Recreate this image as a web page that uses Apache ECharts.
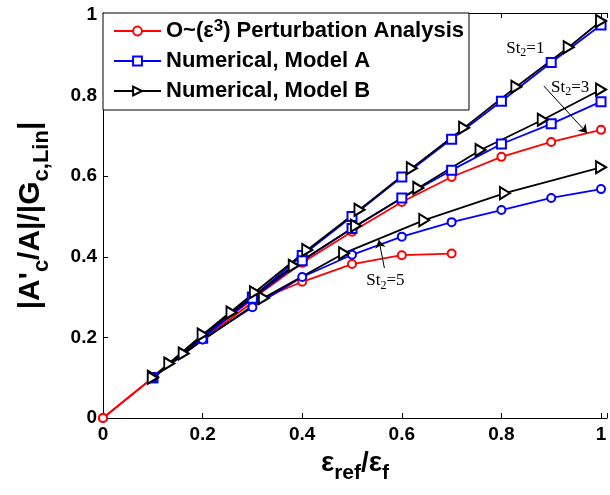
<!DOCTYPE html>
<html><head><meta charset="utf-8">
<script src="https://cdn.jsdelivr.net/npm/echarts@6/dist/echarts.min.js"></script>
<style>html,body{margin:0;padding:0;background:#fff}#c{width:610px;height:495px}</style>
</head><body><div id="c"></div>
<script>
// ---- data ----
const xTickValues = [0, 0.2, 0.4, 0.6, 0.8, 1];
const yTickValues = [0, 0.2, 0.4, 0.6, 0.8, 1];
const seriesNames = ['O~(ε3) Perturbation Analysis', 'Numerical, Model A', 'Numerical, Model B'];

// Perturbation analysis (red, circles)
const redSt3X = [0, 0.1, 0.2, 0.3, 0.4, 0.5, 0.6, 0.7, 0.8, 0.9, 1.0];
const redSt3Y = [0, 0.1, 0.2, 0.295, 0.385, 0.462, 0.536, 0.598, 0.648, 0.685, 0.715];
const redSt5X = [0, 0.1, 0.2, 0.3, 0.4, 0.5, 0.6, 0.7];
const redSt5Y = [0, 0.1, 0.195, 0.287, 0.338, 0.382, 0.404, 0.408];

// Numerical, Model A (blue)
const blueX = [0.1, 0.2, 0.3, 0.4, 0.5, 0.6, 0.7, 0.8, 0.9, 1.0];
const blueSt1Y = [0.1, 0.2, 0.3, 0.403, 0.5, 0.598, 0.692, 0.786, 0.882, 0.975];
const blueSt3Y = [0.1, 0.198, 0.297, 0.39, 0.47, 0.546, 0.615, 0.68, 0.73, 0.785];
const blueSt5Y = [0.1, 0.195, 0.275, 0.35, 0.405, 0.45, 0.486, 0.516, 0.546, 0.568];

// Numerical, Model B (black, right triangles)
const blackSt1X = [0.1, 0.2, 0.305, 0.41, 0.515, 0.62, 0.725, 0.83, 0.935, 1.0];
const blackSt1Y = [0.102, 0.207, 0.312, 0.417, 0.517, 0.62, 0.72, 0.822, 0.92, 0.985];
const blackSt3X = [0.133, 0.258, 0.383, 0.508, 0.633, 0.758, 0.883, 1.0];
const blackSt3Y = [0.135, 0.262, 0.378, 0.477, 0.571, 0.665, 0.74, 0.815];
const blackSt5X = [0.1, 0.162, 0.323, 0.484, 0.645, 0.807, 1.0];
const blackSt5Y = [0.1, 0.16, 0.298, 0.409, 0.491, 0.558, 0.622];

// annotations (data coordinates)
const annoLabels = [
  {text: '1', at: [0.848, 0.918]},
  {text: '3', at: [0.938, 0.821]},
  {text: '5', at: [0.567, 0.34]}
];
const annoArrows = [
  [[0.885, 0.824], [0.972, 0.707]],
  [[0.565, 0.372], [0.554, 0.442]]
];

// ---- chart ----
const RED = '#ff0000', BLUE = '#0000ff', BLACK = '#000000';
function pairs(xs, ys) { return xs.map((x, i) => [x, ys[i]]); }
function mk(name, xs, ys, color, symbol, size, rot) {
  return {
    type: 'line', name: name, data: pairs(xs, ys),
    symbol: symbol, symbolSize: size, symbolRotate: rot || 0,
    showSymbol: true, animation: false,
    lineStyle: {color: color, width: 1.8},
    itemStyle: {color: color, borderColor: color, borderWidth: 1.5}
  };
}
const tickFmt = v => {
  if (Math.abs(v * 5 - Math.round(v * 5)) > 1e-6) return '';
  if (Math.abs(v) < 1e-9) return '0';
  if (Math.abs(v - 1) < 1e-9) return '1';
  return v.toFixed(1);
};
const labelFont = {fontFamily: 'Liberation Sans', fontWeight: 'bold', fontSize: 19, color: '#000'};

const series = [
  mk(seriesNames[0], redSt3X, redSt3Y, RED, 'emptyCircle', 8),
  mk(seriesNames[0], redSt5X, redSt5Y, RED, 'emptyCircle', 8),
  mk(seriesNames[1], blueX, blueSt1Y, BLUE, 'emptyRect', 9),
  mk(seriesNames[1], blueX, blueSt3Y, BLUE, 'emptyRect', 9),
  mk(seriesNames[1], blueX, blueSt5Y, BLUE, 'emptyCircle', 8),
  mk(seriesNames[2], blackSt1X, blackSt1Y, BLACK, 'emptyTriangle', [12, 10], -90),
  mk(seriesNames[2], blackSt3X, blackSt3Y, BLACK, 'emptyTriangle', [12, 10], -90),
  mk(seriesNames[2], blackSt5X, blackSt5Y, BLACK, 'emptyTriangle', [12, 10], -90)
];
series.push({
  type: 'line', name: 'anno', data: [], silent: true, animation: false,
  markLine: {
    silent: true, animation: false,
    symbol: ['none', 'arrow'], symbolSize: 8,
    lineStyle: {color: '#000', width: 1, type: 'solid'},
    label: {show: false},
    data: annoArrows.map(a => [{coord: a[0]}, {coord: a[1]}])
  },
  markPoint: {
    silent: true, animation: false,
    symbol: 'circle', symbolSize: 1, itemStyle: {color: 'rgba(0,0,0,0)'},
    label: {
      show: true, position: 'inside', color: '#000',
      formatter: p => '{m|St}{s|2}{m|=' + p.name + '}',
      rich: {
        m: {fontFamily: 'Liberation Serif', fontSize: 17, color: '#000', lineHeight: 22},
        s: {fontFamily: 'Liberation Serif', fontSize: 12, color: '#000', lineHeight: 11, verticalAlign: 'bottom'}
      }
    },
    data: annoLabels.map(a => ({name: a.text, coord: a.at}))
  }
});

const chart = echarts.init(document.getElementById('c'), null, {renderer: 'canvas'});
chart.setOption({
  animation: false,
  backgroundColor: '#fff',
  grid: {left: 103, top: 13, right: -3, bottom: 77, containLabel: false},
  xAxis: [{
    type: 'value', min: 0, max: 1.012, interval: 0.2, position: 'bottom',
    axisLine: {show: true, onZero: false, lineStyle: {color: '#000', width: 1}},
    axisTick: {show: true, inside: true, length: 5, lineStyle: {color: '#000'}},
    splitLine: {show: false},
    axisLabel: Object.assign({margin: 7, formatter: tickFmt}, labelFont),
    name: '{e|ε}{s|ref}{e|/ε}{s|f}', nameLocation: 'middle', nameGap: 24,
    nameTextStyle: {
      rich: {
        e: {fontFamily: 'Liberation Sans', fontWeight: 'bold', fontSize: 28, color: '#000', lineHeight: 41},
        s: {fontFamily: 'Liberation Sans', fontWeight: 'bold', fontSize: 21, color: '#000', lineHeight: 21, verticalAlign: 'bottom'}
      }
    }
  }, {
    type: 'value', min: 0, max: 1.012, interval: 0.2, position: 'top',
    axisLine: {show: true, onZero: false, lineStyle: {color: '#000', width: 1}},
    axisTick: {show: true, inside: true, length: 5, lineStyle: {color: '#000'}},
    axisLabel: {show: false}, splitLine: {show: false}
  }],
  yAxis: [{
    type: 'value', min: 0, max: 1.005, interval: 0.2,
    axisLine: {show: true, onZero: false, lineStyle: {color: '#000', width: 1}},
    axisTick: {show: true, inside: true, length: 5, lineStyle: {color: '#000'}},
    splitLine: {show: false},
    axisLabel: Object.assign({margin: 6, formatter: tickFmt}, labelFont),
    name: "{m||A'}{s|c}{m|/A|/|G}{s|c,Lin}{m||}", nameLocation: 'middle', nameRotate: 90, nameGap: 50,
    nameTextStyle: {
      rich: {
        m: {fontFamily: 'Liberation Sans', fontWeight: 'bold', fontSize: 30, color: '#000', lineHeight: 45},
        s: {fontFamily: 'Liberation Sans', fontWeight: 'bold', fontSize: 22, color: '#000', lineHeight: 21, verticalAlign: 'bottom'}
      }
    }
  }],
  legend: {
    orient: 'vertical', left: 103, top: 13,
    data: seriesNames,
    backgroundColor: '#fff', borderColor: '#000', borderWidth: 1, borderRadius: 0,
    padding: [5, 5, 6, 10], itemGap: 4, itemWidth: 47, itemHeight: 11, itemTextGap: 4,
    selectedMode: false,
    textStyle: {
      fontFamily: 'Liberation Sans', fontWeight: 'bold', fontSize: 22, color: '#000', lineHeight: 26,
      rich: {
        sup: {fontFamily: 'Liberation Sans', fontWeight: 'bold', fontSize: 17, color: '#000', lineHeight: 12, verticalAlign: 'top'}
      }
    },
    formatter: name => name === seriesNames[0] ? 'O~(ε{sup|3}) Perturbation Analysis' : name
  },
  series: series
});
</script>
</body></html>
